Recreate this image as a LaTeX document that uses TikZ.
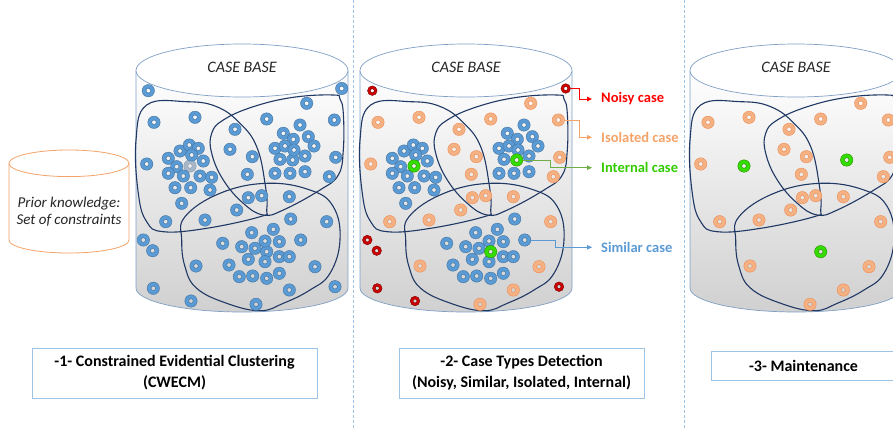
\documentclass[tikz,border=0pt]{standalone}
\usepackage{fontspec}
\setmainfont{Carlito}
\usetikzlibrary{arrows.meta}
\definecolor{ringblue}{HTML}{5B9BD5}
\definecolor{ringblueD}{HTML}{41719C}
\definecolor{ringpale}{HTML}{A9B8C8}
\definecolor{ringpaleD}{HTML}{8497B0}
\definecolor{ringor}{HTML}{F4B183}
\definecolor{ringorD}{HTML}{EE8A50}
\definecolor{ringred}{HTML}{D00000}
\definecolor{ringredD}{HTML}{7A0000}
\definecolor{ringgr}{HTML}{33DD00}
\definecolor{ringgrD}{HTML}{2A8A00}
\definecolor{blobc}{HTML}{203864}
\definecolor{cyledge}{HTML}{7F9FC5}
\definecolor{cylbot}{HTML}{D0D0D0}
\definecolor{dashc}{HTML}{9DC3E6}
\definecolor{priorc}{HTML}{F4A46A}
\definecolor{noisyc}{HTML}{FF0000}
\definecolor{isoc}{HTML}{F4A46A}
\definecolor{intc}{HTML}{33CC00}
\definecolor{intl}{HTML}{70AD47}
\definecolor{simc}{HTML}{5B9BD5}
\tikzset{
  cyl/.style={draw=cyledge, line width=0.7pt},
  blob/.style={draw=blobc, line width=1.1pt, smooth cycle, tension=0.7},
  ringB/.style={fill=ringblue, draw=ringblueD, line width=0.4pt, even odd rule},
  ringP/.style={fill=ringpale, draw=ringpaleD, line width=0.4pt, even odd rule},
  ringO/.style={fill=ringor, draw=ringorD, line width=0.4pt, even odd rule},
  ringR/.style={fill=ringred, draw=ringredD, line width=0.4pt, even odd rule},
  ringG/.style={fill=ringgr, draw=ringgrD, line width=0.4pt, even odd rule},
  casebase/.style={font=\itshape\fontsize{16}{18}\selectfont, text=black!85},
  stagebox/.style={draw=dashc, line width=0.9pt, align=center, font=\bfseries\fontsize{16}{21}\selectfont},
  lbl/.style={anchor=west, inner xsep=9pt, inner ysep=0pt, font=\bfseries\fontsize{14.5}{17}\selectfont},
  conn/.style={line width=0.9pt, -{Triangle[length=5pt,width=4.5pt]}},
  sep/.style={draw=dashc, line width=0.8pt, dash pattern=on 3pt off 2pt}
}
\def\Rlist{148.3/90.7, 341.7/88.5, 143.3/240, 152.7/250.7, 153.3/288.3, 191/301, 335/286.7}
\def\Olist{306.7/103.3, 154/122.3, 195/117.3, 266.7/119, 334.3/120, 235/129.3, 230/149.3, 252.3/156.7, 146.7/164, 335.7/157.3, 329.3/176.7, 247.3/174.3, 248.3/197.7, 261.7/195.7, 289.3/196.7, 236.7/210, 165.7/221.7, 205/220, 326.7/221.7, 196/266, 315/266.7, 256/304.3, 289.3/290}
\def\Glist{190/166, 292.7/160, 266.7/251.7}
\def\Gother{292.7/160, 266.7/251.7}
\def\Gpale{190/166}
\def\Blist{168.3/158.3, 180/151, 189.3/145, 198.3/148.3, 191.7/155, 203.3/161, 176.7/166.7, 168.3/173.3, 183.3/176, 200/176, 211.7/177.3, 210/190, 175/187.7, 190.7/187.7, 181.7/203.3, 283.3/133.3, 293.3/139.3, 308.3/136.7, 300/125, 275/148.3, 285/146, 294/150, 314/146, 305/156, 280/159.3, 275/173.3, 290/173.3, 305/171.7, 251.7/232.7, 273.3/229.3, 265/241, 279.3/241.7, 241.7/246.7, 255/248.3, 279.3/256.7, 289.3/256.7, 248.3/259.3, 265/261.7, 239.3/276.7, 252.7/276, 266.7/278.3, 279.3/273.3, 222.7/243.3, 229/265, 290.7/219, 300.7/240}
\newcommand\ringset[4]{\foreach \x/\y in #4 {\path[#1] (\x,\y) circle (#2) (\x,\y) circle (#3);}}
\newcommand\cylbody[1]{%
  \shade[top color=white, middle color=white, bottom color=cylbot]
    (136,70.5) -- (136,288) .. controls (136,301.25) and (183.5,312) .. (242,312)
    .. controls (300.5,312) and (348,301.25) .. (348,288) -- (348,70.5) -- cycle;
  \draw[cyl] (136,70.5) -- (136,288) .. controls (136,301.25) and (183.5,312) .. (242,312)
    .. controls (300.5,312) and (348,301.25) .. (348,288) -- (348,70.5);
  \draw[cyl, fill=white] (242,70.5) ellipse [x radius=106, y radius=26.5];
  \node[casebase] (cb#1) at (242,67) {CASE BASE};
  \draw[blob] plot coordinates {(136,140) (146.7,105) (186.7,101.7) (216.7,106.7) (240,123.3) (256.7,146.7) (265,183.3) (266.7,210) (260,216.7) (206.7,228.3) (163.3,231.7) (146.7,221.7) (138.3,193.3)};
  \draw[blob] plot coordinates {(333.3,95) (293.3,97.3) (253.3,106.7) (223.3,120) (211.7,133.3) (211.7,153.3) (223.3,180) (243.3,203.3) (263.3,215) (283.3,210) (320,190) (338.3,175) (343.3,150) (343.3,113.3) (340,99)};
  \draw[blob] plot coordinates {(185,216.7) (220,193.3) (266.7,183.3) (310,190) (333.3,206.7) (340,240) (330,273.3) (310,290) (283.3,303.3) (260,310.7) (226.7,303.3) (196.7,288.3) (185,266.7) (181.7,240)};
}
\begin{document}
\begin{tikzpicture}[x=1pt,y=-1pt]
\useasboundingbox (0,0) rectangle (893,429);
\clip (0,0) rectangle (893,429);
\fill[white] (0,0) rectangle (893,429);
% separators
\coordinate (d1t) at (353.5,0); \coordinate (d1b) at (353.5,429);
\coordinate (d2t) at (684.5,0); \coordinate (d2b) at (684.5,429);
\draw[sep] (d1t) -- (d1b);
\draw[sep] (d2t) -- (d2b);
% prior knowledge cylinder
\draw[draw=priorc, line width=0.8pt, fill=white]
  (9,163.3) -- (9,240) .. controls (9,247.2) and (35.9,253) .. (69,253)
  .. controls (102.1,253) and (129,247.2) .. (129,240) -- (129,163.3);
\draw[draw=priorc, line width=0.8pt, fill=white] (69,163.3) ellipse [x radius=60, y radius=13.3];
\node[font=\itshape\fontsize{15}{17}\selectfont, align=center, text=black!85] (prior) at (69,212) {Prior knowledge:\\Set of constraints};
% cylinder 1
\begin{scope}
  \cylbody{1}
  \ringset{ringB}{6.2}{2.3}{\Rlist}
  \ringset{ringB}{6.2}{2.3}{\Olist}
  \ringset{ringB}{6.2}{2.3}{\Gother}
  \ringset{ringP}{6.2}{2.3}{\Gpale}
  \ringset{ringB}{6.2}{2.3}{\Blist}
\end{scope}
% cylinder 2
\begin{scope}[xshift=224pt]
  \cylbody{2}
  \ringset{ringR}{4.8}{2}{\Rlist}
  \ringset{ringO}{6.2}{2.3}{\Olist}
  \ringset{ringB}{6.2}{2.3}{\Blist}
  \ringset{ringG}{6.2}{2.3}{\Glist}
\end{scope}
% cylinder 3
\begin{scope}[xshift=554pt]
  \cylbody{3}
  \ringset{ringO}{6.2}{2.3}{\Olist}
  \ringset{ringG}{6.2}{2.3}{\Glist}
\end{scope}
% case type labels and connectors
\node[lbl, text=noisyc] (noisy) at (592,99) {Noisy case};
\node[lbl, text=isoc] (iso) at (592,137.3) {Isolated case};
\node[lbl, text=intc] (int) at (592,167.7) {Internal case};
\node[lbl, text=simc] (sim) at (592,247.3) {Similar case};
\coordinate (nA) at (570.5,88.5); \coordinate (nB) at (579.3,88.5);
\coordinate (iA) at (564.5,120); \coordinate (iB) at (579.3,120);
\coordinate (gA) at (522.9,160); \coordinate (gB) at (550,160);
\coordinate (sA) at (530.9,240); \coordinate (sB) at (555,240);
\draw[conn, noisyc] (nA) -- (nB) |- (noisy.west);
\draw[conn, isoc] (iA) -- (iB) |- (iso.west);
\draw[conn, intl] (gA) -- (gB) |- (int.west);
\draw[conn, simc] (sA) -- (sB) |- (sim.west);
% stage boxes
\node[stagebox, minimum width=285pt, minimum height=50pt] (s1) at (174.5,373) {-1- Constrained Evidential Clustering\\(CWECM)};
\node[stagebox, minimum width=245pt, minimum height=50pt] (s2) at (521.5,373) {-2- Case Types Detection\\(Noisy, Similar, Isolated, Internal)};
\node[stagebox, minimum width=185pt, minimum height=29pt] (s3) at (803.5,365.5) {-3- Maintenance};
\end{tikzpicture}
\end{document}
